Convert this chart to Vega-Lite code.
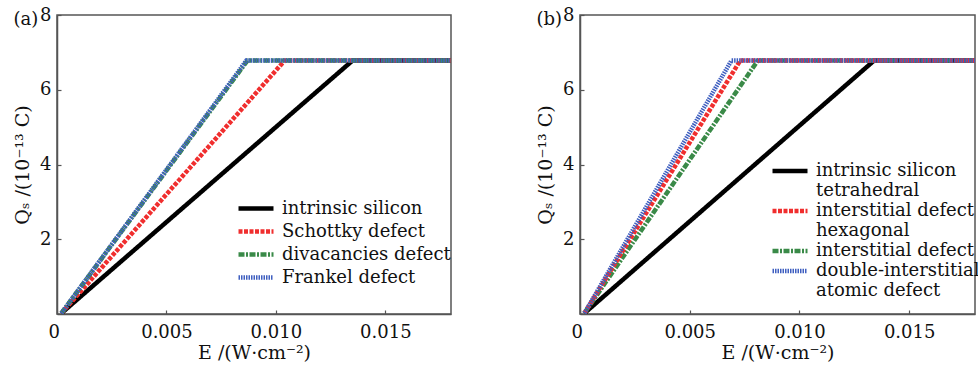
{
  "$schema": "https://vega.github.io/schema/vega-lite/v6.json",
  "padding": {"left": 12, "top": 5, "right": 0, "bottom": 3},
  "spacing": 83,
  "resolve": {"scale": {"color": "independent", "strokeDash": "independent"}},
  "config": {
    "font": "DejaVu Serif",
    "view": {"stroke": "#555555", "strokeWidth": 1.5},
    "axis": {
      "grid": false,
      "domainColor": "#555555",
      "domainWidth": 1.5,
      "tickColor": "#555555",
      "tickSize": -4,
      "tickWidth": 1.2,
      "labelFont": "DejaVu Serif",
      "labelFontSize": 18,
      "labelColor": "#111111",
      "titleFont": "DejaVu Serif",
      "titleFontSize": 19,
      "titleFontWeight": "normal",
      "titleColor": "#111111",
      "labelPadding": 10
    },
    "axisX": {"labelPadding": 13, "titlePadding": 2},
    "axisY": {"titlePadding": 7},
    "legend": {
      "title": null,
      "orient": "none",
      "labelFont": "DejaVu Serif",
      "labelFontSize": 18,
      "labelColor": "#111111",
      "symbolType": "stroke",
      "symbolSize": 1225,
      "symbolStrokeWidth": 4.5,
      "labelOffset": 6,
      "labelLimit": 400,
      "rowPadding": 0
    },
    "title": {"font": "DejaVu Serif", "fontSize": 18, "fontWeight": "normal", "color": "#111111", "anchor": "start", "frame": "bounds"}
  },
  "hconcat": [
    {
      "width": 394,
      "height": 299,
      "title": {"text": "(a)", "dy": 27},
      "data": {"values": [
        {"series": "intrinsic silicon", "E": 0.0002, "Q": 0.02},
        {"series": "intrinsic silicon", "E": 0.0135, "Q": 6.78},
        {"series": "intrinsic silicon", "E": 0.018, "Q": 6.78},
        {"series": "Schottky defect", "E": 0.0002, "Q": 0.02},
        {"series": "Schottky defect", "E": 0.0104, "Q": 6.78},
        {"series": "Schottky defect", "E": 0.018, "Q": 6.78},
        {"series": "divacancies defect", "E": 0.0002, "Q": 0.02},
        {"series": "divacancies defect", "E": 0.0087, "Q": 6.78},
        {"series": "divacancies defect", "E": 0.018, "Q": 6.78},
        {"series": "Frankel defect", "E": 0.0002, "Q": 0.02},
        {"series": "Frankel defect", "E": 0.00865, "Q": 6.78},
        {"series": "Frankel defect", "E": 0.018, "Q": 6.78}
      ]},
      "encoding": {
        "x": {"field": "E", "type": "quantitative", "scale": {"domain": [0, 0.018]},
          "axis": {"title": "E /(W·cm⁻²)", "values": [0, 0.005, 0.01, 0.015],
            "labelExpr": "datum.value == 0 ? '0' : format(datum.value, '.3f')",
            "labelOffset": {"condition": {"test": "datum.value == 0", "value": -9}, "value": 0}}},
        "y": {"field": "Q", "type": "quantitative", "scale": {"domain": [0, 8]},
          "axis": {"title": "Qₛ /(10⁻¹³ C)", "values": [2, 4, 6, 8]}},
        "color": {"field": "series", "type": "nominal",
          "scale": {"domain": ["intrinsic silicon", "Schottky defect", "divacancies defect", "Frankel defect"],
            "range": ["#000000", "#f02e2e", "#3a8a48", "#3f5fc0"]},
          "legend": {"legendX": 179, "legendY": 182, "clipHeight": 23}},
        "strokeDash": {"field": "series", "type": "nominal",
          "scale": {"domain": ["intrinsic silicon", "Schottky defect", "divacancies defect", "Frankel defect"],
            "range": [[1, 0], [4, 1.5], [6, 1.5, 2, 1.5], [1.5, 1]]},
          "legend": {"legendX": 179, "legendY": 182, "clipHeight": 23}}
      },
      "layer": [
        {"transform": [{"filter": "datum.series == 'intrinsic silicon'"}], "mark": {"type": "line", "strokeWidth": 4.5, "strokeCap": "butt", "clip": true}},
        {"transform": [{"filter": "datum.series == 'Schottky defect'"}], "mark": {"type": "line", "strokeWidth": 4.5, "strokeCap": "butt", "clip": true}},
        {"transform": [{"filter": "datum.series == 'divacancies defect'"}], "mark": {"type": "line", "strokeWidth": 4.5, "strokeCap": "butt", "clip": true}},
        {"transform": [{"filter": "datum.series == 'Frankel defect'"}], "mark": {"type": "line", "strokeWidth": 4.5, "strokeCap": "butt", "clip": true}}
      ]
    },
    {
      "width": 395,
      "height": 299,
      "title": {"text": "(b)", "dy": 27},
      "data": {"values": [
        {"series": "intrinsic silicon", "E": 0.0002, "Q": 0.02},
        {"series": "intrinsic silicon", "E": 0.0134, "Q": 6.78},
        {"series": "intrinsic silicon", "E": 0.018, "Q": 6.78},
        {"series": "tetrahedral interstitial defect", "E": 0.0002, "Q": 0.02},
        {"series": "tetrahedral interstitial defect", "E": 0.0073, "Q": 6.78},
        {"series": "tetrahedral interstitial defect", "E": 0.018, "Q": 6.78},
        {"series": "hexagonal interstitial defect", "E": 0.0002, "Q": 0.02},
        {"series": "hexagonal interstitial defect", "E": 0.0081, "Q": 6.78},
        {"series": "hexagonal interstitial defect", "E": 0.018, "Q": 6.78},
        {"series": "double-interstitial atomic defect", "E": 0.0002, "Q": 0.02},
        {"series": "double-interstitial atomic defect", "E": 0.0069, "Q": 6.78},
        {"series": "double-interstitial atomic defect", "E": 0.018, "Q": 6.78}
      ]},
      "encoding": {
        "x": {"field": "E", "type": "quantitative", "scale": {"domain": [0, 0.018]},
          "axis": {"title": "E /(W·cm⁻²)", "values": [0, 0.005, 0.01, 0.015],
            "labelExpr": "datum.value == 0 ? '0' : format(datum.value, '.3f')",
            "labelOffset": {"condition": {"test": "datum.value == 0", "value": -9}, "value": 0}}},
        "y": {"field": "Q", "type": "quantitative", "scale": {"domain": [0, 8]},
          "axis": {"title": "Qₛ /(10⁻¹³ C)", "values": [2, 4, 6, 8]}},
        "color": {"field": "series", "type": "nominal",
          "scale": {"domain": ["intrinsic silicon", "tetrahedral", "tetrahedral interstitial defect", "hexagonal", "hexagonal interstitial defect", "double-interstitial atomic defect", "atomic defect"],
            "range": ["#000000", "transparent", "#f02e2e", "transparent", "#3a8a48", "#3f5fc0", "transparent"]},
          "legend": {"legendX": 190, "legendY": 146, "clipHeight": 20,
            "labelExpr": "datum.label == 'tetrahedral interstitial defect' || datum.label == 'hexagonal interstitial defect' ? 'interstitial defect' : datum.label == 'double-interstitial atomic defect' ? 'double-interstitial' : datum.label"}},
        "strokeDash": {"field": "series", "type": "nominal",
          "scale": {"domain": ["intrinsic silicon", "tetrahedral", "tetrahedral interstitial defect", "hexagonal", "hexagonal interstitial defect", "double-interstitial atomic defect", "atomic defect"],
            "range": [[1, 0], [1, 0], [4, 1.5], [1, 0], [6, 1.5, 2, 1.5], [1.5, 1], [1, 0]]},
          "legend": {"legendX": 190, "legendY": 146, "clipHeight": 20,
            "labelExpr": "datum.label == 'tetrahedral interstitial defect' || datum.label == 'hexagonal interstitial defect' ? 'interstitial defect' : datum.label == 'double-interstitial atomic defect' ? 'double-interstitial' : datum.label"}}
      },
      "layer": [
        {"transform": [{"filter": "datum.series == 'intrinsic silicon'"}], "mark": {"type": "line", "strokeWidth": 4.5, "strokeCap": "butt", "clip": true}},
        {"transform": [{"filter": "datum.series == 'hexagonal interstitial defect'"}], "mark": {"type": "line", "strokeWidth": 4.5, "strokeCap": "butt", "clip": true}},
        {"transform": [{"filter": "datum.series == 'tetrahedral interstitial defect'"}], "mark": {"type": "line", "strokeWidth": 4.5, "strokeCap": "butt", "clip": true}},
        {"transform": [{"filter": "datum.series == 'double-interstitial atomic defect'"}], "mark": {"type": "line", "strokeWidth": 4.5, "strokeCap": "butt", "clip": true}}
      ]
    }
  ]
}
